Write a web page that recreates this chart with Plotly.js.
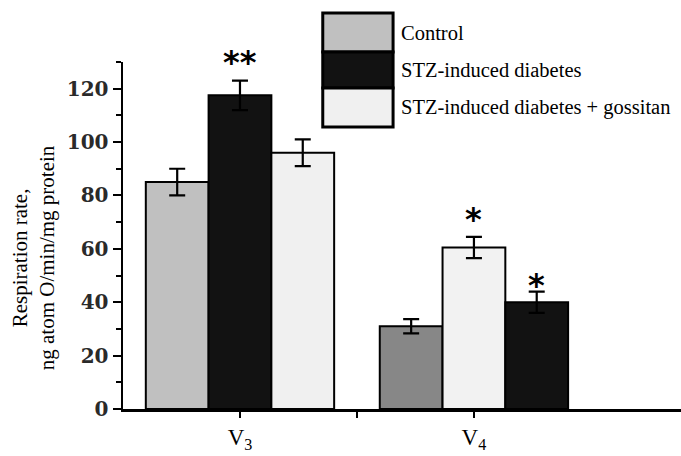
<!DOCTYPE html>
<html><head><meta charset="utf-8">
<script src="https://cdn.plot.ly/plotly-3.0.1.min.js"></script>
<style>html,body{margin:0;padding:0;background:#fff}#chart{width:681px;height:456px}</style>
</head><body><div id="chart"></div>
<script>
var categories = [1, 2];
var tickVals = [1, 1.5, 2];
var tickLabels = ["V<sub>3</sub>", "", "V<sub>4</sub>"];
var seriesNames = ["Control", "STZ-induced diabetes", "STZ-induced diabetes + gossitan"];
var controlVals = [85, 31];
var controlErr = [5, 2.7];
var stzVals = [117.5, 60.5];
var stzErr = [5.5, 4];
var gossVals = [96, 40];
var gossErr = [5, 4];
var controlColors = ["#c0c0c0", "#878787"];
var stzColors = ["#121212", "#f2f2f2"];
var gossColors = ["#f0f0f0", "#121212"];
var legendColors = ["#c0c0c0", "#121212", "#f0f0f0"];
var sigX = [1, 2, 2.268];
var sigY = [132.7, 73.9, 49];
var sigText = ["**", "*", "*"];
var yMax = 130;

var serif = "Liberation Serif, Times New Roman, serif";
function tr(name, y, err, colors) {
  return {type: "bar", name: name, x: categories, y: y,
    marker: {color: colors, line: {color: "#000", width: 2}},
    error_y: {type: "data", array: err, visible: true, color: "#000", thickness: 2.2, width: 8},
    showlegend: false};
}
var data = [tr(seriesNames[0], controlVals, controlErr, controlColors),
            tr(seriesNames[1], stzVals, stzErr, stzColors),
            tr(seriesNames[2], gossVals, gossErr, gossColors)];

var annotations = [];
for (var i = 0; i < sigX.length; i++) {
  annotations.push({x: sigX[i], y: sigY[i] / yMax, xref: "x", yref: "paper", text: sigText[i], showarrow: false,
    font: {family: "DejaVu Sans", size: 32, color: "#000", weight: "bold"}, yanchor: "middle", yshift: -7});
}
annotations.push({x: -0.161, y: 0.435, xref: "paper", yref: "paper", textangle: -90,
  xanchor: "center", yanchor: "middle",
  text: "Respiration rate,<br>ng atom O/min/mg protein", showarrow: false,
  font: {family: serif, size: 21, color: "#000"}});

var shapes = [];
var rowsY = [1.141, 1.029, 0.925, 0.813];
for (var j = 0; j < 3; j++) {
  shapes.push({type: "rect", xref: "paper", yref: "paper", x0: 0.358, x1: 0.484,
    y0: rowsY[j + 1], y1: rowsY[j], fillcolor: legendColors[j], line: {color: "#000", width: 3}});
  annotations.push({xref: "paper", yref: "paper", x: 0.495, y: (rowsY[j] + rowsY[j + 1]) / 2,
    xanchor: "left", yanchor: "middle", text: seriesNames[j], showarrow: false,
    font: {family: serif, size: 20.5, color: "#000"}});
}

var layout = {
  width: 681, height: 456,
  margin: {l: 123, r: 0, t: 62, b: 47},
  paper_bgcolor: "#fff", plot_bgcolor: "#fff",
  barmode: "group", bargap: 0.195, bargroupgap: 0,
  xaxis: {range: [0.5, 2.885], tickvals: tickVals, ticktext: tickLabels, ticks: "outside",
    ticklen: 6, tickwidth: 2, tickcolor: "#000", showline: true, linecolor: "#000", linewidth: 2.5,
    showgrid: false, zeroline: false, tickfont: {family: serif, size: 23, color: "#000"}},
  yaxis: {range: [0, yMax], tickvals: [0, 20, 40, 60, 80, 100, 120], ticks: "outside", ticklen: 8,
    tickwidth: 2, tickcolor: "#000", showline: true, linecolor: "#000", linewidth: 2.5,
    showgrid: false, zeroline: false,
    minor: {dtick: 10, ticks: "outside", ticklen: 5, tickwidth: 2, tickcolor: "#000"},
    tickfont: {family: "DejaVu Serif", size: 20, color: "#2a2a2a", weight: "bold"}},
  annotations: annotations, shapes: shapes
};
Plotly.newPlot("chart", data, layout, {staticPlot: true});
</script></body></html>
